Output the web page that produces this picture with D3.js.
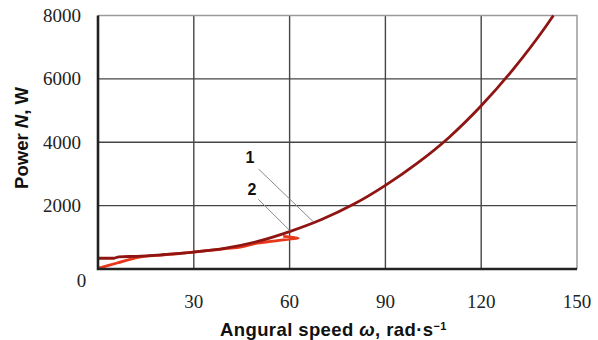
<!DOCTYPE html>
<html lang="en">
	<head>
		<meta charset="utf-8">
		<title>Power vs angular speed</title>
		<script type="text/javascript" src="https://cdn.jsdelivr.net/npm/d3@7"></script>
		<style type="text/css">
			body { margin: 0; background: #fff; }
		</style>
	</head>
	<body>
		<script type="text/javascript">

			//Width and height
			var w = 598;
			var h = 340;

			//Axis ticks
			var xTicks = [30, 60, 90, 120, 150];
			var yTicks = [2000, 4000, 6000, 8000];

			//Curve 1 (omega, power)
			var omega1 = [0, 5, 6.5, 12, 20, 30, 40, 50, 60, 70, 80, 90, 100, 110, 120, 130, 140, 142.6];
			var power1 = [340, 340, 385, 400, 450, 535, 660, 870, 1180, 1560, 2040, 2640, 3340, 4160, 5150, 6300, 7620, 8000];

			//Curve 2 (omega, power)
			var omega2 = [0, 6, 12.6, 20, 30, 40, 45, 50, 55, 60, 62.7, 58];
			var power2 = [20, 190, 370, 440, 530, 640, 700, 820, 880, 945, 975, 1030];

			//Curve labels with leader lines
			var labels = ["1", "2"];
			var labelAt = [[47.6, 3330], [48.2, 2335]];
			var leaderFrom = [[50.3, 3152], [50.2, 2200]];
			var leaderTo = [[67.4, 1493], [60.1, 1209]];

			var xScale = d3.scaleLinear()
							.domain([0, 150])
							.range([98, 577]);

			var yScale = d3.scaleLinear()
							.domain([0, 8000])
							.range([269, 15.5]);

			//Create SVG element
			var svg = d3.select("body")
						.append("svg")
						.attr("width", w)
						.attr("height", h);

			//Grid lines
			svg.selectAll("line.vgrid")
			   .data(xTicks.slice(0, -1))
			   .enter()
			   .append("line")
			   .attr("x1", function(d) { return xScale(d); })
			   .attr("x2", function(d) { return xScale(d); })
			   .attr("y1", yScale(0))
			   .attr("y2", yScale(8000))
			   .attr("stroke", "#454545")
			   .attr("stroke-width", 1.4);

			svg.selectAll("line.hgrid")
			   .data(yTicks.slice(0, -1))
			   .enter()
			   .append("line")
			   .attr("x1", xScale(0))
			   .attr("x2", xScale(150))
			   .attr("y1", function(d) { return yScale(d); })
			   .attr("y2", function(d) { return yScale(d); })
			   .attr("stroke", "#454545")
			   .attr("stroke-width", 1.4);

			//Top and right frame
			svg.append("path")
			   .attr("d", "M" + xScale(0) + "," + yScale(8000) + "H" + xScale(150) + "V" + yScale(0))
			   .attr("fill", "none")
			   .attr("stroke", "#9a9a9a")
			   .attr("stroke-width", 1.5);

			//Curves
			var line1 = d3.line()
						 .x(function(d) { return xScale(d[0]); })
						 .y(function(d) { return yScale(d[1]); })
						 .curve(d3.curveMonotoneX);

			var line2 = d3.line()
						 .x(function(d) { return xScale(d[0]); })
						 .y(function(d) { return yScale(d[1]); })
						 .curve(d3.curveCatmullRom.alpha(0.5));

			svg.append("path")
			   .datum(d3.zip(omega2, power2))
			   .attr("d", line2)
			   .attr("fill", "none")
			   .attr("stroke", "#e8381c")
			   .attr("stroke-width", 2.8)
			   .attr("stroke-linejoin", "round");

			svg.append("path")
			   .datum(d3.zip(omega1, power1))
			   .attr("d", line1)
			   .attr("fill", "none")
			   .attr("stroke", "#8e1512")
			   .attr("stroke-width", 2.8);

			//Left and bottom axis lines
			svg.append("path")
			   .attr("d", "M" + xScale(0) + "," + yScale(8000) + "V" + yScale(0) + "H" + xScale(150))
			   .attr("fill", "none")
			   .attr("stroke", "#222")
			   .attr("stroke-width", 2.6);

			//Leader lines and labels
			svg.selectAll("line.leader")
			   .data(labels)
			   .enter()
			   .append("line")
			   .attr("x1", function(d, i) { return xScale(leaderFrom[i][0]); })
			   .attr("y1", function(d, i) { return yScale(leaderFrom[i][1]); })
			   .attr("x2", function(d, i) { return xScale(leaderTo[i][0]); })
			   .attr("y2", function(d, i) { return yScale(leaderTo[i][1]); })
			   .attr("stroke", "#8a8a8a")
			   .attr("stroke-width", 1);

			svg.selectAll("text.curve")
			   .data(labels)
			   .enter()
			   .append("text")
			   .text(function(d) { return d; })
			   .attr("x", function(d, i) { return xScale(labelAt[i][0]); })
			   .attr("y", function(d, i) { return yScale(labelAt[i][1]); })
			   .attr("text-anchor", "middle")
			   .attr("font-family", "Liberation Sans, Arial, sans-serif")
			   .attr("font-weight", "bold")
			   .attr("font-size", "16px")
			   .attr("fill", "#111");

			//Tick labels
			svg.selectAll("text.xtick")
			   .data(xTicks)
			   .enter()
			   .append("text")
			   .text(function(d) { return d; })
			   .attr("x", function(d) { return xScale(d); })
			   .attr("y", 308)
			   .attr("text-anchor", "middle")
			   .attr("font-family", "Liberation Serif, Times New Roman, serif")
			   .attr("font-size", "19px")
			   .attr("fill", "#222");

			svg.selectAll("text.ytick")
			   .data(yTicks)
			   .enter()
			   .append("text")
			   .text(function(d) { return d; })
			   .attr("x", 81)
			   .attr("y", function(d) { return yScale(d); })
			   .attr("dy", "0.34em")
			   .attr("text-anchor", "end")
			   .attr("font-family", "Liberation Serif, Times New Roman, serif")
			   .attr("font-size", "19px")
			   .attr("fill", "#222");

			svg.append("text")
			   .text("0")
			   .attr("x", 81.5)
			   .attr("y", 287)
			   .attr("text-anchor", "middle")
			   .attr("font-family", "Liberation Serif, Times New Roman, serif")
			   .attr("font-size", "19px")
			   .attr("fill", "#222");

			//Axis titles
			var xTitle = svg.append("text")
			   .attr("x", 220)
			   .attr("y", 336)
			   .attr("font-family", "Liberation Sans, Arial, sans-serif")
			   .attr("font-weight", "bold")
			   .attr("font-size", "18.5px")
			   .attr("letter-spacing", "0.4px")
			   .attr("fill", "#111");
			xTitle.append("tspan").text("Angural speed ");
			xTitle.append("tspan").attr("font-style", "italic").text("ω");
			xTitle.append("tspan").text(", rad·s");
			xTitle.append("tspan").attr("dy", "-0.55em").attr("font-size", "11px").text("−1");

			var yTitle = svg.append("text")
			   .attr("transform", "translate(28,138) rotate(-90)")
			   .attr("text-anchor", "middle")
			   .attr("font-family", "Liberation Sans, Arial, sans-serif")
			   .attr("font-weight", "bold")
			   .attr("font-size", "18.5px")
			   .attr("fill", "#111");
			yTitle.append("tspan").text("Power ");
			yTitle.append("tspan").attr("font-style", "italic").text("N");
			yTitle.append("tspan").text(", W");

		</script>
	</body>
</html>
